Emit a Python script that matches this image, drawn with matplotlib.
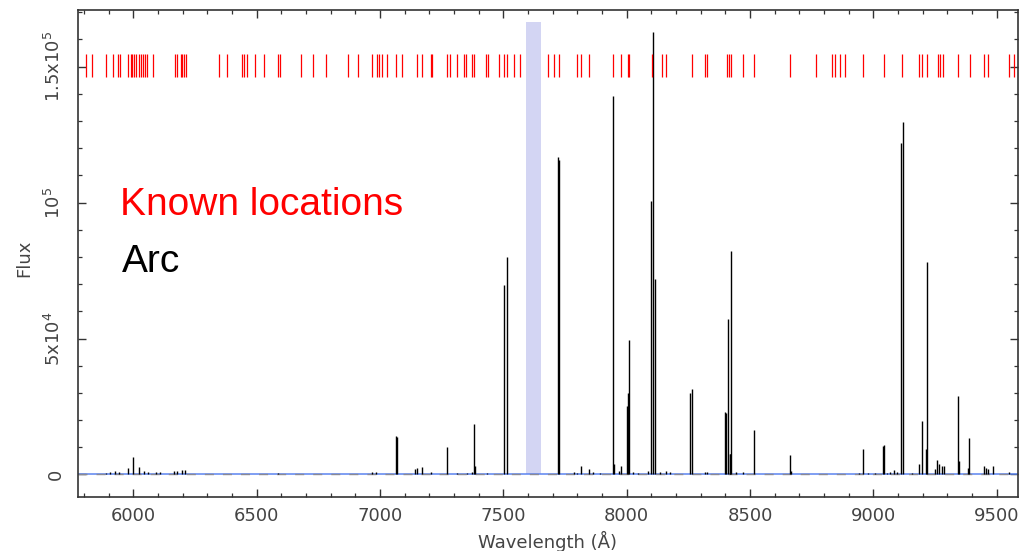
import matplotlib.pyplot as plt
from matplotlib.ticker import FixedLocator, MultipleLocator

# known line positions (red ticks), Angstrom
known_wave = [5807, 5834, 5888, 5919, 5939, 5946, 5977, 5989, 5996, 6003, 6010, 6023,
              6031, 6040, 6047, 6057, 6081, 6169, 6178, 6192, 6199, 6205, 6212, 6347,
              6378, 6442, 6449, 6460, 6493, 6531, 6585, 6596, 6679, 6727, 6780, 6869,
              6912, 6966, 6989, 6996, 7007, 7027, 7064, 7088, 7149, 7171, 7206, 7212,
              7270, 7284, 7313, 7341, 7349, 7372, 7381, 7430, 7436, 7482, 7504, 7514,
              7544, 7568, 7682, 7707, 7726, 7797, 7815, 7847, 7943, 7976, 8004, 8010,
              8104, 8142, 8158, 8264, 8318, 8324, 8406, 8413, 8422, 8473, 8516, 8662,
              8768, 8834, 8845, 8865, 8885, 8959, 9044, 9117, 9185, 9196, 9219, 9261,
              9270, 9281, 9344, 9392, 9449, 9466, 9551, 9571]
known_lo, known_hi = 146100, 154600

# arc spectrum lines
arc_wave = [5889, 5905, 5925, 5943, 5980, 5998, 6025, 6044, 6058, 6093, 6107, 6164,
            6178, 6196, 6209, 6588, 6966, 6984,
            7064, 7070, 7142, 7149, 7169, 7207, 7270, 7311, 7351, 7372, 7381, 7386,
            7432, 7504, 7514, 7720, 7724, 7788, 7797, 7814, 7847, 7865, 7892, 7943,
            7949, 7970, 7977, 8000, 8005, 8009, 8027, 8047, 8088, 8099, 8108, 8115,
            8135, 8158, 8176, 8257, 8264, 8318, 8324,
            8400, 8402, 8409, 8417, 8419, 8424, 8443, 8473, 8516, 8662, 8667, 8865,
            8942, 8959, 8978, 9007, 9038, 9044, 9056, 9068, 9084, 9096, 9112, 9120,
            9157, 9185, 9196, 9212, 9219, 9250, 9258, 9266, 9278, 9286, 9344, 9348,
            9385, 9389, 9449, 9457, 9465, 9486, 9550]
arc_flux = [700, 900, 1100, 800, 2500, 6400, 2800, 1200, 1000, 1000, 900, 1400,
            1300, 1700, 1800, 400, 1000, 900,
            14300, 13600, 2000, 2500, 2800, 800, 10000, 500, 600, 800, 18400, 3200,
            500, 69800, 80100, 116900, 115500, 900, 600, 3300, 2200, 800, 700, 139300,
            3800, 1200, 3000, 25000, 30000, 49300, 1000, 700, 1200, 100400, 162800, 72000,
            1000, 1200, 800, 30000, 31600, 800, 800,
            23000, 22500, 57000, 7700, 7500, 82000, 800, 800, 16300, 7000, 1200, 300,
            400, 9400, 500, 500, 10300, 10700, 700, 1000, 1600, 800, 121900, 129600,
            500, 4000, 19600, 9400, 78300, 2200, 5500, 3700, 3300, 3000, 29000, 4900,
            2500, 13500, 3000, 2500, 2200, 3300, 1000]

# telluric band
band_wave = [7594, 7652]
band_top = 166400

xticks = [6000, 6500, 7000, 7500, 8000, 8500, 9000, 9500]
yticks = [0, 50000, 100000, 150000]
ytick_labels = ['0', r'5x10$^4$', r'10$^5$', r'1.5x10$^5$']

fig = plt.figure(figsize=(10.21, 5.51), dpi=100)
ax = fig.add_axes([0.0767, 0.0975, 0.9207, 0.8844])

ax.fill_between(band_wave, 0, band_top, color='#d3d5f3', lw=0, zorder=1)
ax.axhline(0, color='#5b84f0', lw=1.1, zorder=2)
ax.axhline(0, color='#8a8a96', lw=1.0, dashes=(6.5, 6.5), zorder=2)
ax.vlines(arc_wave, 0, arc_flux, color='black', lw=1.0, zorder=3)
ax.vlines(known_wave, known_lo, known_hi, color='red', lw=0.9, zorder=3)

ax.set_xlim(5777, 9588)
ax.set_ylim(-8380, 170800)

ax.xaxis.set_major_locator(FixedLocator(xticks))
ax.xaxis.set_minor_locator(MultipleLocator(100))
ax.yaxis.set_minor_locator(MultipleLocator(10000))
ax.set_yticks(yticks, ytick_labels, rotation=90, va='center')

ax.tick_params(which='both', direction='in', top=True, right=True, color='#333333')
ax.tick_params(which='major', length=5.5, width=1.0)
ax.tick_params(which='minor', length=2.8, width=0.9)
ax.tick_params(axis='x', pad=7, labelsize=13, labelcolor='#444444')
ax.tick_params(axis='y', pad=10, labelsize=13, labelcolor='#444444')
for s in ax.spines.values():
    s.set_color('#333333')
    s.set_linewidth(1.2)

fig.text(24 / 1021, 1 - 258 / 551, 'Flux', rotation=90, ha='center', va='center',
         fontsize=13, color='#444444')
fig.text(548 / 1021, 1 - 541 / 551, 'Wavelength (Å)', ha='center', va='center',
         fontsize=13, color='#444444')

ax.text(0.0444, 0.5793, 'Known locations', transform=ax.transAxes, color='red',
        fontsize=28, family='Liberation Sans', va='baseline')
ax.text(0.0465, 0.4624, 'Arc', transform=ax.transAxes, color='black',
        fontsize=28, family='Liberation Sans', va='baseline')

fig.savefig('out.png', dpi=100)
